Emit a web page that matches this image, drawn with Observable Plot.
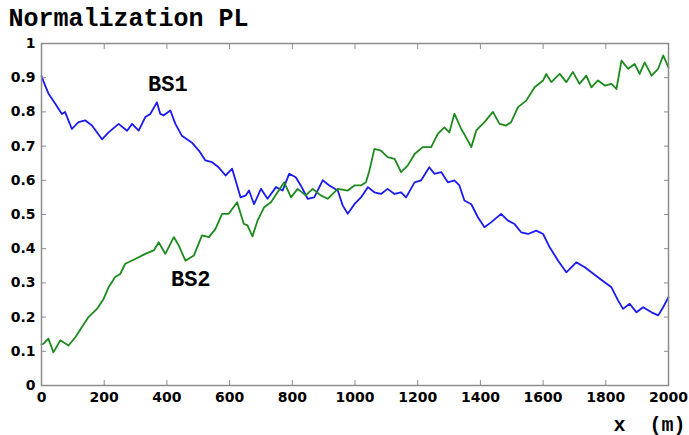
<!DOCTYPE html>
<html><head><meta charset="utf-8">
<script src="https://cdn.jsdelivr.net/npm/d3@7"></script>
<script src="https://cdn.jsdelivr.net/npm/@observablehq/plot@0.6"></script>
<style>body{margin:0;background:#fff} svg{display:block}</style>
</head><body><div id="chart"></div>
<script>
const bs1X = [0,6,22,44,65,75,97,118,140,161,193,214,246,273,289,310,331,347,368,379,390,411,427,448,480,502,523,544,565,587,608,619,635,652,662,678,700,721,748,769,790,811,827,849,870,897,918,945,961,977,998,1019,1041,1062,1083,1104,1126,1147,1163,1190,1211,1237,1253,1275,1296,1317,1333,1349,1371,1392,1413,1434,1466,1488,1509,1530,1552,1578,1600,1621,1648,1674,1706,1733,1754,1781,1818,1839,1855,1876,1898,1919,1946,1967,1983,2000];
const bs1Y = [0.905,0.89,0.854,0.824,0.794,0.80,0.75,0.77,0.775,0.76,0.72,0.74,0.765,0.745,0.765,0.745,0.785,0.794,0.828,0.794,0.79,0.804,0.765,0.73,0.71,0.687,0.658,0.653,0.638,0.614,0.634,0.60,0.55,0.556,0.57,0.53,0.575,0.546,0.58,0.57,0.619,0.609,0.585,0.546,0.55,0.60,0.585,0.57,0.526,0.502,0.53,0.55,0.58,0.565,0.56,0.575,0.56,0.565,0.55,0.594,0.60,0.638,0.619,0.624,0.594,0.60,0.585,0.541,0.53,0.492,0.463,0.477,0.502,0.482,0.472,0.448,0.443,0.453,0.443,0.404,0.365,0.331,0.36,0.346,0.331,0.312,0.287,0.249,0.224,0.239,0.214,0.229,0.214,0.205,0.229,0.258];
const bs2X = [0,6,22,38,60,86,108,129,150,177,198,214,235,251,267,299,331,358,374,395,422,438,459,486,512,534,555,576,597,624,645,657,673,689,710,732,753,774,796,817,843,865,891,913,945,977,998,1019,1035,1046,1062,1083,1104,1126,1147,1168,1190,1216,1243,1264,1285,1301,1317,1339,1360,1371,1387,1413,1440,1461,1482,1498,1520,1546,1573,1600,1610,1626,1653,1674,1695,1716,1738,1754,1775,1797,1818,1834,1850,1871,1892,1908,1924,1946,1967,1983,2000];
const bs2Y = [0.12,0.122,0.137,0.097,0.132,0.117,0.141,0.171,0.20,0.224,0.253,0.287,0.317,0.326,0.356,0.37,0.385,0.395,0.419,0.385,0.434,0.409,0.365,0.38,0.439,0.434,0.458,0.502,0.502,0.536,0.473,0.468,0.436,0.482,0.521,0.536,0.565,0.594,0.55,0.575,0.556,0.575,0.556,0.546,0.575,0.57,0.585,0.585,0.594,0.629,0.692,0.687,0.668,0.663,0.624,0.643,0.677,0.697,0.697,0.736,0.755,0.74,0.795,0.75,0.716,0.697,0.746,0.77,0.80,0.765,0.76,0.77,0.814,0.833,0.872,0.892,0.911,0.887,0.911,0.887,0.917,0.882,0.906,0.872,0.892,0.877,0.882,0.867,0.95,0.926,0.94,0.911,0.945,0.906,0.926,0.965,0.93];
const xTicks = [0,200,400,600,800,1000,1200,1400,1600,1800,2000];
const yTicks = [0,0.1,0.2,0.3,0.4,0.5,0.6,0.7,0.8,0.9,1];
const yTickLabels = ["0","0.1","0.2","0.3","0.4","0.5","0.6","0.7","0.8","0.9","1"];
const labelText = ["BS1","BS2"];
const labelX = [403,476];
const labelY = [0.883,0.311];
const titleText = "Normalization PL";
const xLabelText = "x\u00a0\u00a0(m)";

const bs1 = bs1X.map((x,i)=>({x, y: bs1Y[i]}));
const bs2 = bs2X.map((x,i)=>({x, y: bs2Y[i]}));
const gray = "#8c8c8c";

const chart = Plot.plot({
  width: 689, height: 435,
  marginLeft: 41, marginRight: 21, marginTop: 43, marginBottom: 50,
  style: {background: "#fff", fontFamily: "DejaVu Sans", fontSize: "14px", fontWeight: "bold", color: "#000"},
  x: {domain: [0, 2000]},
  y: {domain: [0, 1]},
  marks: [
    Plot.line(bs1, {x: "x", y: "y", stroke: "#1a1af5", strokeWidth: 1.8}),
    Plot.line(bs2, {x: "x", y: "y", stroke: "#1d8a1d", strokeWidth: 1.8}),
    Plot.frame({stroke: gray, strokeWidth: 1.5}),
    Plot.axisX({anchor: "bottom", ticks: xTicks, tickSize: -5, tickPadding: 12, label: null, stroke: gray, fill: "#000", tickFormat: d => String(d)}),
    Plot.axisX({anchor: "top", ticks: xTicks, tickSize: -5, label: null, stroke: gray, tickFormat: () => ""}),
    Plot.axisY({anchor: "left", ticks: yTicks, tickSize: -5, tickPadding: 11, label: null, stroke: gray, fill: "#000", tickFormat: d => yTickLabels[yTicks.indexOf(d)]}),
    Plot.axisY({anchor: "right", ticks: yTicks, tickSize: -5, label: null, stroke: gray, tickFormat: () => ""}),
    Plot.text(labelText, {x: (d,i) => labelX[i], y: (d,i) => labelY[i], text: d => d, fontFamily: "Liberation Mono", fontSize: 22, fontWeight: "bold", fill: "#000"}),
    Plot.text([titleText], {frameAnchor: "top-left", dx: -33, dy: -18, textAnchor: "start", lineAnchor: "bottom", fontFamily: "Liberation Mono", fontSize: 25, fontWeight: "bold", fill: "#000", text: d => d, letterSpacing: "0.6px"}),
    Plot.text([xLabelText], {frameAnchor: "bottom-right", dx: -55, dy: 45, textAnchor: "start", lineAnchor: "bottom", fontFamily: "Liberation Mono", fontSize: 20, fontWeight: "bold", fill: "#000", text: d => d})
  ]
});
document.getElementById("chart").append(chart);
</script>
</body></html>
